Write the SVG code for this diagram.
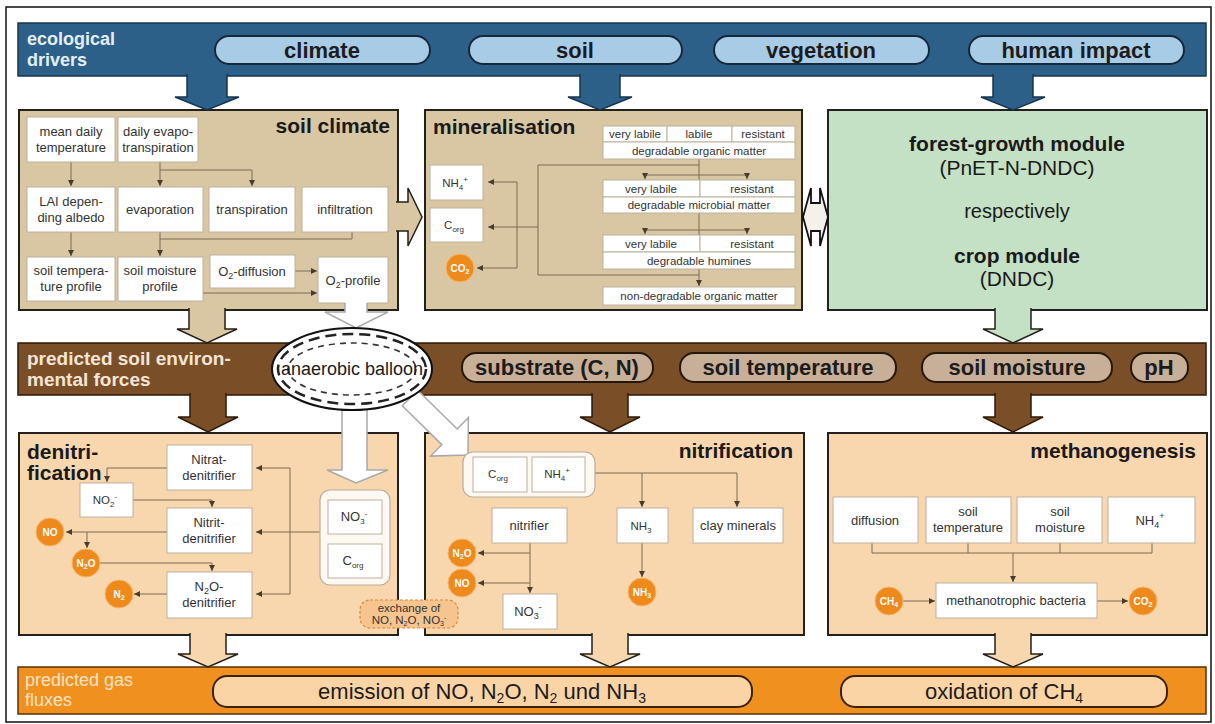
<svg xmlns="http://www.w3.org/2000/svg" width="1215" height="724" viewBox="0 0 1215 724">
<defs>
<style>
text{font-family:"Liberation Sans",Arial,sans-serif}
.frame{fill:#fff;stroke:#111;stroke-width:1.5}
.bblue{fill:#2d6089;stroke:#17344d;stroke-width:1.5}
.pblue{fill:#a9cce6;stroke:#15283a;stroke-width:2}
.bbrown{fill:#7a4e27;stroke:#2e1a08;stroke-width:1.5}
.pbrown{fill:#c8af97;stroke:#24170b;stroke-width:2}
.borange{fill:#f0911f;stroke:#5a3004;stroke-width:1.5}
.porange{fill:#fbd4a6;stroke:#3a2208;stroke-width:2}
.tan{fill:#d9c7a4;stroke:#24201b;stroke-width:2}
.peach{fill:#f9d7ae;stroke:#24201b;stroke-width:2}
.green{fill:#c5e1c5;stroke:#24201b;stroke-width:2}
.wb{fill:#fff;stroke:#bcb09d;stroke-width:1}
.grp{fill:#fdf8f1;stroke:#b9ad9a;stroke-width:1.2}
.ln{fill:none;stroke:#7a6a55;stroke-width:1;marker-end:url(#ah)}
.lnn{fill:none;stroke:#7a6a55;stroke-width:1}
.circ{fill:#ee8a1c;stroke:#f6b56a;stroke-width:1}
.ct{font-size:10px;font-weight:bold;fill:#fff;text-anchor:middle}
.st{font-size:13px;fill:#333;text-anchor:middle}
.tt{font-size:11.5px;fill:#333;text-anchor:middle}
.title{font-size:21px;font-weight:bold;fill:#1a1a1a}
.pt{font-size:22px;font-weight:bold;fill:#1c1c1c;text-anchor:middle}
.arr-blue{fill:#2d6089;stroke:#17344d;stroke-width:1.5}
.arr-tan{fill:#d9c7a4;stroke:#24201b;stroke-width:1.5}
.arr-green{fill:#c5e1c5;stroke:#24201b;stroke-width:1.5}
.arr-brown{fill:#7a4e27;stroke:#2e1a08;stroke-width:1.5}
.arr-peach{fill:#f9d7ae;stroke:#24201b;stroke-width:1.5}
.arr-white{fill:#fff;stroke:#a9a9a9;stroke-width:1.5}
</style>
<marker id="ah" viewBox="0 0 6 6" refX="6" refY="3" markerWidth="6" markerHeight="6" orient="auto" markerUnits="userSpaceOnUse"><path d="M0,0 L6,3 L0,6 z" fill="#4a3c2d"/></marker>
</defs>

<rect class="frame" x="6" y="7" width="1205" height="715"/>

<!-- bands and containers -->
<g id="ecological-drivers">
<rect class="bblue" x="18" y="23" width="1188" height="53"/>
<text x="27" y="45" font-size="18" font-weight="bold" fill="#e4eef6">ecological</text>
<text x="27" y="66" font-size="18" font-weight="bold" fill="#e4eef6">drivers</text>
</g>
<g id="soil-environmental-forces">
<rect class="bbrown" x="18" y="343" width="1188" height="52"/>
<text x="27" y="365" font-size="19" font-weight="bold" fill="#f3e6d6">predicted soil environ-</text>
<text x="27" y="386" font-size="19" font-weight="bold" fill="#f3e6d6">mental forces</text>
</g>
<g id="gas-fluxes">
<rect class="borange" x="18" y="667" width="1188" height="47"/>
<text x="25" y="686" font-size="18" fill="#fde3c6">predicted gas</text>
<text x="25" y="706" font-size="18" fill="#fde3c6">fluxes</text>
</g>
<g id="soil-climate">
<rect class="tan" x="19" y="110" width="379" height="200"/>
<text class="title" x="390" y="133" text-anchor="end">soil climate</text>
</g>
<g id="mineralisation">
<rect class="tan" x="425" y="110" width="377" height="200"/>
<text class="title" x="433" y="134">mineralisation</text>
</g>
<g id="forest-growth-module">
<rect class="green" x="828" y="110" width="379" height="200"/>
<text x="1017" y="151" font-size="21" font-weight="bold" fill="#1a1a1a" text-anchor="middle">forest-growth module</text>
<text x="1017" y="175" font-size="21" fill="#1a1a1a" text-anchor="middle">(PnET-N-DNDC)</text>
<text x="1017" y="218" font-size="20" fill="#1a1a1a" text-anchor="middle">respectively</text>
<text x="1017" y="263" font-size="21" font-weight="bold" fill="#1a1a1a" text-anchor="middle">crop module</text>
<text x="1017" y="286" font-size="21" fill="#1a1a1a" text-anchor="middle">(DNDC)</text>
</g>
<g id="denitrification">
<rect class="peach" x="19" y="433" width="379" height="202"/>
<text class="title" x="27" y="459">denitri-</text>
<text class="title" x="27" y="480">fication</text>
</g>
<g id="nitrification">
<rect class="peach" x="425" y="433" width="379" height="202"/>
<text class="title" x="793" y="458" text-anchor="end">nitrification</text>
</g>
<g id="methanogenesis">
<rect class="peach" x="828" y="433" width="379" height="202"/>
<text class="title" x="1196" y="458" text-anchor="end">methanogenesis</text>
</g>

<!-- connectors -->
<g id="connectors">
<path class="arr-blue" d="M187,74 V97 H175 L207,110 L239,97 H227 V74"/>
<path class="arr-blue" d="M580,74 V97 H568 L600,110 L632,97 H620 V74"/>
<path class="arr-blue" d="M993,74 V97 H981 L1013,110 L1045,97 H1033 V74"/>
<path class="arr-tan" d="M189,308 V329 H177 L207,343 L237,329 H225 V308"/>
<path class="arr-green" d="M995,308 V329 H983 L1013,343 L1043,329 H1031 V308"/>
<path class="arr-brown" d="M190,393 V417 H178 L208,432 L238,417 H226 V393"/>
<path class="arr-brown" d="M592,393 V417 H580 L610,432 L640,417 H628 V393"/>
<path class="arr-brown" d="M995,393 V417 H983 L1013,432 L1043,417 H1031 V393"/>
<path class="arr-peach" d="M190,633 V654 H178 L208,667 L238,654 H226 V633"/>
<path class="arr-peach" d="M592,633 V654 H580 L610,667 L640,654 H628 V633"/>
<path class="arr-peach" d="M995,633 V654 H983 L1013,667 L1043,654 H1031 V633"/>
<path class="arr-tan" d="M396,202 H408 V188 L422,217 L408,246 V231 H396"/>
<path class="arr-white" d="M345,300 V312 H325 L356,328 L388,312 H367 V300"/>
<polygon fill="#f3f1ea" stroke="#111" stroke-width="1.8" points="803,217 811,188 811,203 820,203 820,188 828,217 820,246 820,231 811,231 811,246"/>
<path class="arr-white" d="M342,400 V470 H327 L356,483 L388,470 H367 V400"/>
<polygon class="arr-white" points="417.7,390.2 457.2,429 468.4,417.5 468,455 430.6,456.1 441.8,444.6 402.3,405.8"/>
<!-- soil climate -->
<path class="ln" d="M71,162 V186"/>
<path class="ln" d="M160,162 V186"/>
<path class="ln" d="M160,170 H252 V186"/>
<path class="ln" d="M71,232 V256"/>
<path class="ln" d="M160,232 V256"/>
<path class="lnn" d="M352,232 V239 H160"/>
<path class="ln" d="M295,271 H317"/>
<path class="ln" d="M203,293 H317"/>
<!-- mineralisation -->
<path class="lnn" d="M699,159 V180 M699,213 V235"/>
<path class="ln" d="M699,269 V286"/>
<path class="lnn" d="M645,175 H747 M645,230 H747 M699,165 H538 V275 H699"/>
<path class="ln" d="M645,175 V179"/>
<path class="ln" d="M747,175 V179"/>
<path class="ln" d="M645,230 V234"/>
<path class="ln" d="M747,230 V234"/>
<path class="ln" d="M538,227 H488"/>
<path class="lnn" d="M517,182 V268"/>
<path class="ln" d="M517,182 H488"/>
<path class="ln" d="M517,268 H477"/>
<!-- denitrification -->
<path class="lnn" d="M290,468 V594"/>
<path class="ln" d="M290,468 H256"/>
<path class="ln" d="M320,532 H256"/>
<path class="ln" d="M290,594 H256"/>
<path class="ln" d="M167,468 H107 V482"/>
<path class="ln" d="M133,500 H212 V507"/>
<path class="ln" d="M167,532 H66"/>
<path class="ln" d="M87,532 V548"/>
<path class="ln" d="M99,563 H212 V571"/>
<path class="ln" d="M167,594 H134"/>
<!-- nitrification -->
<path class="ln" d="M595,473 H737 V507"/>
<path class="ln" d="M642,473 V507"/>
<path class="ln" d="M642,543 V577"/>
<path class="ln" d="M530,543 V593"/>
<path class="ln" d="M530,553 H478"/>
<path class="ln" d="M530,583 H478"/>
<!-- methanogenesis -->
<path class="lnn" d="M872,543 V553 H1152 V543 M968,543 V553 M1060,543 V553"/>
<path class="ln" d="M1013,553 V582"/>
<path class="ln" d="M903,601 H935"/>
<path class="ln" d="M1097,601 H1128"/>
</g>

<!-- driver pills -->
<g id="climate"><rect class="pblue" x="215" y="36" width="215" height="28" rx="14"/><text class="pt" x="322" y="58">climate</text></g>
<g id="soil"><rect class="pblue" x="469" y="36" width="213" height="28" rx="14"/><text class="pt" x="575" y="58">soil</text></g>
<g id="vegetation"><rect class="pblue" x="714" y="36" width="215" height="28" rx="14"/><text class="pt" x="821" y="58">vegetation</text></g>
<g id="human-impact"><rect class="pblue" x="969" y="36" width="215" height="28" rx="14"/><text class="pt" x="1076" y="58">human impact</text></g>

<!-- soil climate nodes -->
<g id="mean-daily-temperature"><rect class="wb" x="27" y="117" width="88" height="45"/><text class="st" x="71" y="136">mean daily</text><text class="st" x="71" y="152">temperature</text></g>
<g id="daily-evapotranspiration"><rect class="wb" x="118" y="117" width="80" height="45"/><text class="st" x="158" y="136">daily evapo-</text><text class="st" x="158" y="152">transpiration</text></g>
<g id="lai-albedo"><rect class="wb" x="27" y="187" width="88" height="45"/><text class="st" x="71" y="206">LAI depen-</text><text class="st" x="71" y="222">ding albedo</text></g>
<g id="evaporation"><rect class="wb" x="118" y="187" width="85" height="45"/><text class="st" x="160" y="214">evaporation</text></g>
<g id="transpiration"><rect class="wb" x="209" y="187" width="86" height="45"/><text class="st" x="252" y="214">transpiration</text></g>
<g id="infiltration"><rect class="wb" x="302" y="187" width="86" height="45"/><text class="st" x="345" y="214">infiltration</text></g>
<g id="soil-temperature-profile"><rect class="wb" x="27" y="257" width="88" height="44"/><text class="st" x="71" y="275">soil tempera-</text><text class="st" x="71" y="291">ture profile</text></g>
<g id="soil-moisture-profile"><rect class="wb" x="118" y="257" width="85" height="44"/><text class="st" x="160" y="275">soil moisture</text><text class="st" x="160" y="291">profile</text></g>
<g id="o2-diffusion"><rect class="wb" x="210" y="255" width="85" height="33"/><text class="st" x="252" y="276">O<tspan dy="3" font-size="9">2</tspan><tspan dy="-3">-diffusion</tspan></text></g>
<g id="o2-profile"><path class="wb" d="M345,303 H318 V257 H388 V303 H367"/><text class="st" x="353" y="285">O<tspan dy="3" font-size="9">2</tspan><tspan dy="-3">-profile</tspan></text></g>

<!-- mineralisation nodes -->
<g id="pool-organic-matter">
<rect class="wb" x="603" y="126" width="64" height="16"/><rect class="wb" x="667" y="126" width="65" height="16"/><rect class="wb" x="732" y="126" width="63" height="16"/>
<rect class="wb" x="603" y="142" width="192" height="17"/>
<text class="tt" x="635" y="138" font-size="11">very labile</text><text class="tt" x="699" y="138" font-size="11">labile</text><text class="tt" x="763" y="138" font-size="11">resistant</text>
<text class="tt" x="699" y="155">degradable organic matter</text>
</g>
<g id="pool-microbial-matter">
<rect class="wb" x="603" y="180" width="97" height="17"/><rect class="wb" x="700" y="180" width="95" height="17"/>
<rect class="wb" x="603" y="197" width="192" height="16"/>
<text class="tt" x="651" y="193" font-size="12">very labile</text><text class="tt" x="752" y="193" font-size="12">resistant</text>
<text class="tt" x="699" y="209" font-size="12">degradable microbial matter</text>
</g>
<g id="pool-humines">
<rect class="wb" x="603" y="235" width="97" height="17"/><rect class="wb" x="700" y="235" width="95" height="17"/>
<rect class="wb" x="603" y="252" width="192" height="17"/>
<text class="tt" x="651" y="248" font-size="12">very labile</text><text class="tt" x="752" y="248" font-size="12">resistant</text>
<text class="tt" x="699" y="265" font-size="12">degradable humines</text>
</g>
<g id="pool-non-degradable"><rect class="wb" x="603" y="287" width="192" height="18"/><text class="tt" x="699" y="300">non-degradable organic matter</text></g>
<g id="min-nh4"><rect class="wb" x="430" y="165" width="53" height="35"/><text class="tt" x="455" y="187">NH<tspan dy="3" font-size="8">4</tspan><tspan dy="-8" font-size="8">+</tspan></text></g>
<g id="min-corg"><rect class="wb" x="430" y="208" width="53" height="34"/><text class="tt" x="454" y="229">C<tspan dy="3" font-size="8">org</tspan></text></g>
<g id="min-co2"><circle class="circ" cx="460" cy="268" r="14"/><text class="ct" x="460" y="272">CO<tspan dy="2" font-size="7">2</tspan></text></g>

<!-- brown band pills -->
<g id="anaerobic-balloon">
<ellipse cx="352" cy="369" rx="80" ry="41" fill="#fff" stroke="#111" stroke-width="2"/>
<ellipse cx="352" cy="369" rx="74" ry="35" fill="none" stroke="#222" stroke-width="2.5" stroke-dasharray="11 6"/>
<ellipse cx="352" cy="369" rx="64" ry="26" fill="none" stroke="#333" stroke-width="1.6" stroke-dasharray="6 5"/>
<text x="352" y="375" font-size="18" fill="#1a1a1a" text-anchor="middle">anaerobic balloon</text>
</g>
<g id="substrate"><rect class="pbrown" x="462" y="353" width="191" height="29" rx="14"/><text class="pt" x="557" y="375">substrate (C, N)</text></g>
<g id="soil-temperature"><rect class="pbrown" x="680" y="353" width="216" height="29" rx="14"/><text class="pt" x="788" y="375">soil temperature</text></g>
<g id="soil-moisture"><rect class="pbrown" x="922" y="353" width="190" height="29" rx="14"/><text class="pt" x="1017" y="375">soil moisture</text></g>
<g id="ph"><rect class="pbrown" x="1131" y="353" width="57" height="29" rx="14"/><text class="pt" x="1159" y="375">pH</text></g>

<!-- denitrification nodes -->
<g id="nitrat-denitrifier"><rect class="wb" x="167" y="445" width="85" height="45"/><text class="st" x="209" y="464" font-size="12.5">Nitrat-</text><text class="st" x="209" y="480" font-size="12.5">denitrifier</text></g>
<g id="den-no2"><rect class="wb" x="80" y="483" width="53" height="34"/><text class="tt" x="105" y="504">NO<tspan dy="3" font-size="8">2</tspan><tspan dy="-8" font-size="8">-</tspan></text></g>
<g id="nitrit-denitrifier"><rect class="wb" x="167" y="508" width="85" height="45"/><text class="st" x="209" y="527" font-size="12.5">Nitrit-</text><text class="st" x="209" y="543" font-size="12.5">denitrifier</text></g>
<g id="n2o-denitrifier"><rect class="wb" x="167" y="572" width="85" height="46"/><text class="st" x="209" y="591" font-size="12.5">N<tspan dy="3" font-size="9">2</tspan><tspan dy="-3">O-</tspan></text><text class="st" x="209" y="607" font-size="12.5">denitrifier</text></g>
<g id="den-no"><circle class="circ" cx="50" cy="532" r="14"/><text class="ct" x="50" y="536">NO</text></g>
<g id="den-n2o"><circle class="circ" cx="86" cy="563" r="14"/><text class="ct" x="86" y="567">N<tspan dy="2" font-size="7">2</tspan><tspan dy="-2">O</tspan></text></g>
<g id="den-n2"><circle class="circ" cx="119" cy="594" r="14"/><text class="ct" x="119" y="598">N<tspan dy="2" font-size="7">2</tspan></text></g>
<g id="den-substrates">
<rect class="grp" x="320" y="490" width="70" height="95" rx="10"/>
<rect class="wb" x="328" y="500" width="54" height="34"/><text class="st" x="354" y="521" font-size="12">NO<tspan dy="3" font-size="8">3</tspan><tspan dy="-8" font-size="8">-</tspan></text>
<rect class="wb" x="328" y="544" width="54" height="34"/><text class="st" x="353" y="565" font-size="12">C<tspan dy="3" font-size="8">org</tspan></text>
</g>
<g id="exchange"><rect x="360" y="600" width="98" height="28" rx="10" fill="#f6c48f" stroke="#d48a3c" stroke-width="1.2" stroke-dasharray="3 2"/><text class="tt" x="409" y="612" font-size="10.5">exchange of</text><text class="tt" x="409" y="624" font-size="10.5">NO, N<tspan dy="2" font-size="7">2</tspan><tspan dy="-2">O, NO</tspan><tspan dy="2" font-size="7">3</tspan><tspan dy="-6" font-size="7">-</tspan></text></g>

<!-- nitrification nodes -->
<g id="nit-substrates">
<rect class="grp" x="463" y="452" width="132" height="45" rx="10"/>
<rect class="wb" x="473" y="457" width="54" height="35"/><text class="tt" x="498" y="478">C<tspan dy="3" font-size="8">org</tspan></text>
<rect class="wb" x="532" y="457" width="53" height="35"/><text class="tt" x="557" y="478" font-size="12">NH<tspan dy="3" font-size="8">4</tspan><tspan dy="-8" font-size="8">+</tspan></text>
</g>
<g id="nitrifier"><rect class="wb" x="492" y="508" width="75" height="35"/><text class="st" x="529" y="530">nitrifier</text></g>
<g id="nit-nh3"><rect class="wb" x="617" y="508" width="51" height="35"/><text class="tt" x="641" y="530">NH<tspan dy="3" font-size="8">3</tspan></text></g>
<g id="clay-minerals"><rect class="wb" x="693" y="508" width="90" height="35"/><text class="st" x="738" y="530">clay minerals</text></g>
<g id="nit-n2o"><circle class="circ" cx="462" cy="553" r="14"/><text class="ct" x="462" y="557">N<tspan dy="2" font-size="7">2</tspan><tspan dy="-2">O</tspan></text></g>
<g id="nit-no"><circle class="circ" cx="462" cy="583" r="14"/><text class="ct" x="462" y="587">NO</text></g>
<g id="nit-no3"><rect class="wb" x="503" y="594" width="54" height="35"/><text class="st" x="528" y="616">NO<tspan dy="3" font-size="9">3</tspan><tspan dy="-9" font-size="9">-</tspan></text></g>
<g id="nit-nh3-gas"><circle class="circ" cx="642" cy="592" r="14"/><text class="ct" x="642" y="596">NH<tspan dy="2" font-size="7">3</tspan></text></g>

<!-- methanogenesis nodes -->
<g id="diffusion"><rect class="wb" x="833" y="497" width="85" height="46"/><text class="st" x="875" y="525">diffusion</text></g>
<g id="meth-soil-temperature"><rect class="wb" x="926" y="497" width="85" height="46"/><text class="st" x="968" y="516">soil</text><text class="st" x="968" y="532">temperature</text></g>
<g id="meth-soil-moisture"><rect class="wb" x="1017" y="497" width="85" height="46"/><text class="st" x="1060" y="516">soil</text><text class="st" x="1060" y="532">moisture</text></g>
<g id="meth-nh4"><rect class="wb" x="1108" y="497" width="87" height="46"/><text class="st" x="1150" y="525">NH<tspan dy="3" font-size="9">4</tspan><tspan dy="-9" font-size="9">+</tspan></text></g>
<g id="methanotrophic-bacteria"><rect class="wb" x="936" y="583" width="161" height="35"/><text class="st" x="1016" y="605">methanotrophic bacteria</text></g>
<g id="meth-ch4"><circle class="circ" cx="889" cy="601" r="14"/><text class="ct" x="889" y="605">CH<tspan dy="2" font-size="7">4</tspan></text></g>
<g id="meth-co2"><circle class="circ" cx="1143" cy="601" r="14"/><text class="ct" x="1143" y="605">CO<tspan dy="2" font-size="7">2</tspan></text></g>

<!-- gas flux pills -->
<g id="emission"><rect class="porange" x="213" y="676" width="539" height="31" rx="14"/><text x="482" y="699" font-size="22" fill="#1c1c1c" text-anchor="middle">emission of NO, N<tspan dy="4" font-size="14">2</tspan><tspan dy="-4">O, N</tspan><tspan dy="4" font-size="14">2</tspan><tspan dy="-4"> und NH</tspan><tspan dy="4" font-size="14">3</tspan></text></g>
<g id="oxidation"><rect class="porange" x="841" y="676" width="326" height="31" rx="14"/><text x="1004" y="699" font-size="22" fill="#1c1c1c" text-anchor="middle">oxidation of CH<tspan dy="4" font-size="14">4</tspan></text></g>
</svg>
